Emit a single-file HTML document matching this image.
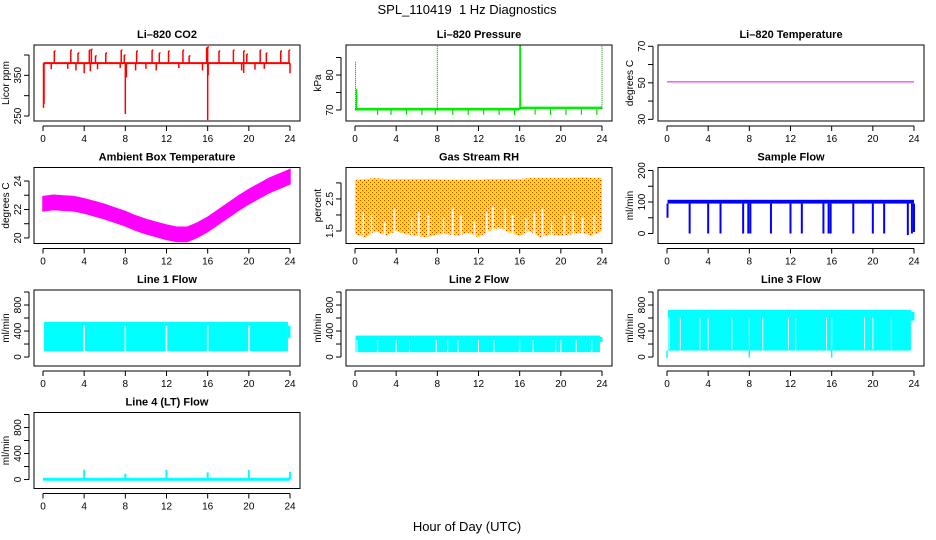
<!DOCTYPE html>
<html><head><meta charset="utf-8">
<style>
html,body{margin:0;padding:0;background:#fff;}
svg{display:block;font-family:"Liberation Sans",Arial,sans-serif;}
</style></head>
<body>
<svg id="chart" width="936" height="540" viewBox="0 0 936 540" xmlns="http://www.w3.org/2000/svg">
<defs>
<pattern id="rhpat" width="4" height="4" patternUnits="userSpaceOnUse">
<rect width="4" height="4" fill="#ffee00"/>
<rect x="0" y="0" width="1" height="1" fill="#ff2a00"/>
<rect x="2" y="2" width="1" height="1" fill="#ff2a00"/>
</pattern>
</defs>
<text x="467" y="14" text-anchor="middle" font-size="13">SPL_110419&#160; 1 Hz Diagnostics</text>
<text x="467" y="531" text-anchor="middle" font-size="13">Hour of Day (UTC)</text>
</svg>
<script>
// ---- data ----
var xTicks = [0,4,8,12,16,20,24];
// CO2
var co2Base = 380;
var co2SpikeHours = [1.1,2.7,3.4,4.5,4.7,5.1,6.1,7.6,7.9,9.1,10.6,11.3,12.2,13.6,14.2,15.9,16.0,17.1,18.5,19.5,19.8,21.1,21.7,23.1,23.9];
var co2SpikeVals  = [410,412,405,412,414,398,405,412,400,410,412,405,410,412,398,418,420,410,412,410,402,412,405,410,412];
var co2DipHours = [0.05,0.1,0.8,2.4,3.2,4.0,4.6,5.3,7.5,8.0,8.1,9.0,10.0,11.0,13.2,15.5,16.0,16.05,19.3,19.5,20.6,21.5,24.0];
var co2DipVals  = [270,280,365,366,362,355,360,365,368,255,345,362,366,362,368,362,240,350,362,356,364,366,355];
// Pressure
var presBaseHours = [0,16,16.01,24];
var presBaseVals  = [70.2,70.2,70.6,70.6];
var presDipHours = [2.2,3.5,5.0,6.5,7.8,9.5,11.0,12.5,14.0,15.5,17.5,19.0,20.5,22.0,23.5];
var presDipVals  = [68.6,68.6,68.7,68.6,68.7,68.6,68.6,68.7,68.6,68.5,68.7,68.6,68.6,68.7,68.6];
var presSpikeHours = [0.05,0.15,8.0,16.0,16.1,24.0];
var presSpikeVals  = [84,76,88.5,88.5,88.5,88.5];
// Li-820 temperature
var tempHours = [0,24];
var tempVals = [50.5,50.5];
// Ambient box temperature (centre of band, hourly)
var ambHours = [0,1,2,3,4,5,6,7,8,9,10,11,12,13,14,15,16,17,18,19,20,21,22,23,24];
var ambVals  = [22.4,22.5,22.45,22.4,22.25,22.05,21.85,21.6,21.35,21.05,20.8,20.6,20.4,20.25,20.25,20.55,20.95,21.45,21.95,22.45,22.9,23.3,23.7,24.0,24.3];
var ambHalfWidth = 0.5;
// Gas stream RH
var rhHours = [0,1,2,3,4,5,6,7,8,9,10,11,12,13,14,15,16,17,18,19,20,21,22,23,24];
var rhUpper = [3.1,3.12,3.15,3.12,3.12,3.12,3.12,3.12,3.12,3.1,3.1,3.1,3.1,3.12,3.12,3.12,3.12,3.15,3.15,3.15,3.15,3.15,3.18,3.15,3.15];
var rhLower = [1.4,1.3,1.5,1.35,1.5,1.4,1.35,1.3,1.4,1.4,1.35,1.45,1.3,1.5,1.6,1.45,1.35,1.5,1.3,1.4,1.35,1.4,1.45,1.35,1.5];
var rhGapHours = [0.8,1.6,2.9,3.8,5.5,6.2,7.1,8.6,9.5,10.3,11.6,12.8,13.4,14.6,15.3,16.6,17.4,18.2,19.1,20.3,21.2,22.1,23.2];
var rhGapTops  = [2.1,2.0,1.8,2.2,1.9,2.1,2.0,1.9,2.2,2.0,1.8,2.1,2.3,2.2,2.0,1.9,2.1,2.2,1.8,2.0,2.1,1.9,2.0];
// Sample flow
var sfLow = 95, sfHigh = 107;
var sfDipHours = [0.05,2.2,4.0,5.2,7.4,7.9,8.1,10.1,12.0,13.1,15.2,15.7,15.9,18.1,20.0,21.1,23.4,23.8,24.0];
var sfDipVals  = [50,0,0,0,0,0,0,0,0,0,0,0,0,0,0,0,-5,0,5];
// Line flows
var l1Low = 90, l1High = 540, l1End = 480;
var l1GapHours = [4.0,8.0,12.0,16.0,20.0];
var l2Low = 75, l2High = 330, l2End = 230;
var l2GapHours = [0.2,2.2,4.0,5.3,7.9,9.0,10.0,12.0,13.5,16.0,17.3,19.5,20.0,21.5,23.0];
var l3Low = 100, l3High = 725, l3End = 560;
var l3GapHours = [0.2,1.3,3.2,4.0,6.3,8.0,9.3,11.8,12.5,15.5,16.0,19.2,20.0,21.8];
var l3DipHours = [0.0,8.0,16.0];
var l3DipVals  = [-15,-10,-10];
var l4Base = 5;
var l4SpikeHours = [4.0,8.0,12.0,16.0,20.0,24.0];
var l4SpikeVals  = [150,90,150,110,150,120];

var svg = document.getElementById('chart');
var NS = 'http://www.w3.org/2000/svg';
function mk(tag, attrs, parent){
  var e = document.createElementNS(NS, tag);
  for (var k in attrs) e.setAttribute(k, attrs[k]);
  (parent||svg).appendChild(e);
  return e;
}
var rowTops = [45,167.5,290,412.5];
function panel(col,row,title,ylab,yMin,yMax,yTicks,yLabTicks,name){
  var L=34+col*312, R=300+col*312, T=rowTops[row], B=T+76;
  var g = mk('g',{});
  
  
  var sx = function(h){return 43+col*312 + h*(247/24);};
  var sy = function(v){return B - (v-yMin)/(yMax-yMin)*(B-T);};
  var plot = mk('g',{},g);
  
  
  var frame = mk('rect',{x:L,y:T,width:R-L,height:B-T,fill:'none',stroke:'#000','stroke-width':1},g);
  
  
  var t = mk('text',{x:(L+R)/2,y:T-7,'text-anchor':'middle','font-size':11,'font-weight':'bold'},g);
  t.textContent = title;
  
  
  var xa = mk('g',{},g);
  
  
  mk('line',{x1:sx(0),x2:sx(24),y1:B+5,y2:B+5,stroke:'#000'},xa);
  xTicks.forEach(function(h){
    mk('line',{x1:sx(h),x2:sx(h),y1:B+5,y2:B+10,stroke:'#000'},xa);
    var tl = mk('text',{x:sx(h),y:B+21,'text-anchor':'middle','font-size':10},xa);
    tl.textContent = h;
    
    
  });
  var ya = mk('g',{},g);
  
  
  mk('line',{x1:L-5,x2:L-5,y1:sy(yTicks[0]),y2:sy(yTicks[yTicks.length-1]),stroke:'#000'},ya);
  yTicks.forEach(function(v){
    mk('line',{x1:L-10,x2:L-5,y1:sy(v),y2:sy(v),stroke:'#000'},ya);
  });
  yLabTicks.forEach(function(v){
    var yy = sy(v), xx = L-13;
    var tl = mk('text',{x:xx,y:yy,'text-anchor':'middle','font-size':10,transform:'rotate(-90 '+xx+' '+yy+')'},ya);
    tl.textContent = v;
    
    
  });
  var yl = mk('text',{x:L-25,y:(T+B)/2,'text-anchor':'middle','font-size':10,transform:'rotate(-90 '+(L-25)+' '+(T+B)/2+')'},ya);
  yl.textContent = ylab;
  
  
  return {sx:sx, sy:sy, g:plot};
}
function vline(p,h,v1,v2,color,w){
  var l = mk('line',{x1:p.sx(h),x2:p.sx(h),y1:p.sy(v1),y2:p.sy(v2),stroke:color,'stroke-width':w||1.5},p.g);
  
  
  return l;
}
function hline(p,h1,h2,v,color,w){
  var l = mk('line',{x1:p.sx(h1),x2:p.sx(h2),y1:p.sy(v),y2:p.sy(v),stroke:color,'stroke-width':w||2},p.g);
  
  
  return l;
}
function band(p,h1,h2,lo,hi,color){
  var r = mk('rect',{x:p.sx(h1),y:p.sy(hi),width:p.sx(h2)-p.sx(h1),height:p.sy(lo)-p.sy(hi),fill:color},p.g);
  
  
  return r;
}

// Row 1
var p = panel(0,0,'Li\u2013820 CO2','Licor ppm',237.7,424.6,[250,300,350,400],[250,350],'co2');
hline(p,0.05,24,co2Base,'#ff0000',2);
co2SpikeHours.forEach(function(h,i){ vline(p,h,co2Base,co2SpikeVals[i],'#ff0000',1.5); hline(p,h,h+0.12,co2SpikeVals[i],'#ff0000',1.5); });
co2DipHours.forEach(function(h,i){ vline(p,h,co2Base,co2DipVals[i],'#ff0000',1.5); });

p = panel(1,0,'Li\u2013820 Pressure','kPa',66.86,88.57,[70,75,80,85],[70,80],'pressure');
for (var i=0;i<presBaseHours.length-1;i++){
  if (presBaseHours[i+1]-presBaseHours[i] > 0.05) hline(p,presBaseHours[i],presBaseHours[i+1],presBaseVals[i],'#00ee00',2.5);
}
presDipHours.forEach(function(h,i){ vline(p,h,70.2,presDipVals[i],'#00dd00',1.2); });
presSpikeHours.forEach(function(h,i){ var l=vline(p,h,70.2,presSpikeVals[i],'#008800',1); l.setAttribute('stroke-dasharray','1 1'); });
vline(p,0.15,70.2,76,'#00ee00',1.5);
vline(p,16.05,70.4,88.5,'#00ee00',1.5);

p = panel(2,0,'Li\u2013820 Temperature','degrees C',29.1,70.7,[30,40,50,60,70],[30,50,70],'li820-temp');
hline(p,tempHours[0],tempHours[1],tempVals[0],'#ff00ff',1);

// Row 2
p = panel(0,1,'Ambient Box Temperature','degrees C',19.61,24.95,[20,21,22,23,24],[20,22,24],'ambient-temp');
(function(){
  var pts = [];
  ambHours.forEach(function(h,i){ pts.push(p.sx(h)+','+p.sy(ambVals[i]+ambHalfWidth)); });
  for (var i=ambHours.length-1;i>=0;i--) pts.push(p.sx(ambHours[i])+','+p.sy(ambVals[i]-ambHalfWidth));
  var poly = mk('polygon',{points:pts.join(' '),fill:'#ff00ff',stroke:'#ff00ff','stroke-width':1.5},p.g);
  
  
})();

p = panel(1,1,'Gas Stream RH','percent',1.11,3.48,[1.5,2,2.5,3],[1.5,2.5],'gas-rh');
(function(){
  var pts = [];
  rhHours.forEach(function(h,i){ pts.push(p.sx(h)+','+p.sy(rhUpper[i])); });
  for (var i=rhHours.length-1;i>=0;i--) pts.push(p.sx(rhHours[i])+','+p.sy(rhLower[i]));
  var poly = mk('polygon',{points:pts.join(' '),fill:'url(#rhpat)'},p.g);
  
  
})();
rhGapHours.forEach(function(h,i){ vline(p,h,1.2,rhGapTops[i],'#ffffff',1.5); });

p = panel(2,1,'Sample Flow','ml/min',-31.7,209.5,[0,50,100,150,200],[0,100,200],'sample-flow');
band(p,0.05,24,sfLow,sfHigh,'#0000ff');
sfDipHours.forEach(function(h,i){ vline(p,h,sfLow,sfDipVals[i],'#0000ff',2); });

// Row 3
p = panel(0,2,'Line 1 Flow','ml/min',-138,1031,[0,200,400,600,800,1000],[0,400,800],'line1-flow');
band(p,0.1,23.8,l1Low,l1High,'#00ffff');
band(p,23.8,24.05,l1Low+200,l1End,'#00ffff');
l1GapHours.forEach(function(h){ vline(p,h,l1Low,l1High-60,'#ffffff',1.5); });

p = panel(1,2,'Line 2 Flow','ml/min',-138,1031,[0,200,400,600,800,1000],[0,400,800],'line2-flow');
band(p,0.05,23.8,l2Low,l2High,'#00ffff');
band(p,23.8,24.05,l2End,l2High-20,'#00ffff');
l2GapHours.forEach(function(h){ vline(p,h,l2Low,l2High-70,'#ffffff',1); });

p = panel(2,2,'Line 3 Flow','ml/min',-138,1031,[0,200,400,600,800,1000],[0,400,800],'line3-flow');
band(p,0.1,23.7,l3Low,l3High,'#00ffff');
band(p,23.7,24.05,l3End,l3High-30,'#00ffff');
l3GapHours.forEach(function(h){ vline(p,h,l3Low+20,l3High-120,'#ffffff',1); });
l3DipHours.forEach(function(h,i){ vline(p,h,l3Low,l3DipVals[i],'#00ffff',1.5); });

// Row 4
p = panel(0,3,'Line 4 (LT) Flow','ml/min',-138,1031,[0,200,400,600,800,1000],[0,400,800],'line4-flow');
hline(p,0,24,l4Base,'#00ffff',3);
l4SpikeHours.forEach(function(h,i){ vline(p,h,l4Base,l4SpikeVals[i],'#00ffff',2); });
</script>
</body></html>
